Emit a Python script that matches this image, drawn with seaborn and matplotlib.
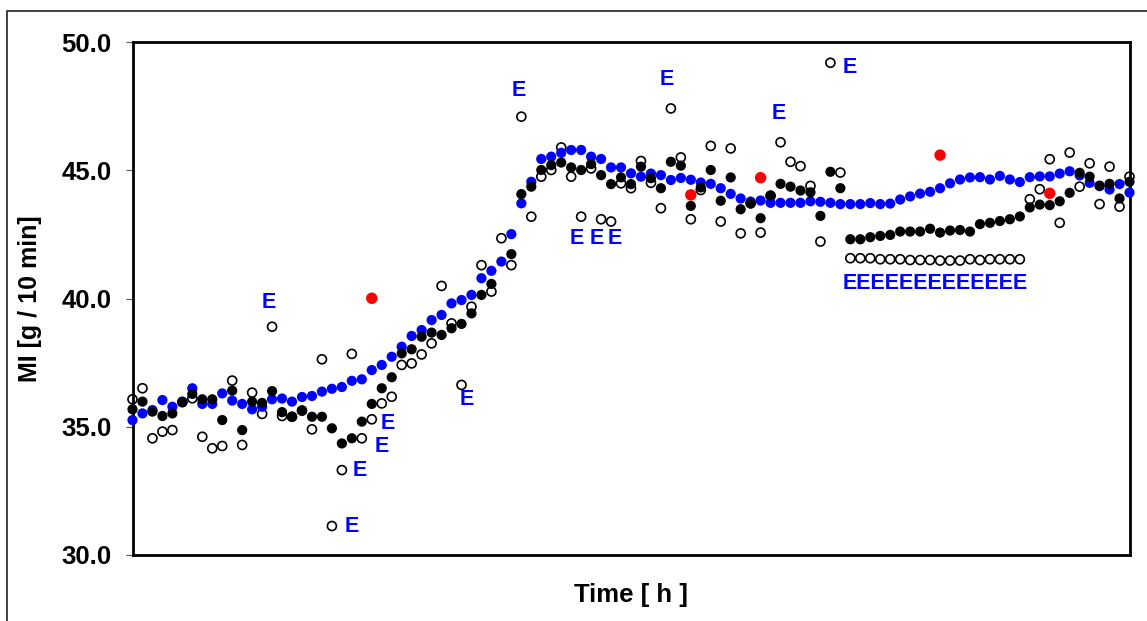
import matplotlib
matplotlib.use("Agg")
import matplotlib.pyplot as plt
import seaborn as sns
import pandas as pd
import numpy as np
from matplotlib.patches import Rectangle
from matplotlib.ticker import FormatStrFormatter

# ---------------- data ----------------
sample = list(range(101))

# smooth model / soft-sensor series (blue)
model_mi = [35.26, 35.52, 35.65, 36.04, 35.78, 35.98, 36.50, 35.89, 35.89, 36.30,
            36.02, 35.89, 35.68, 35.78, 36.07, 36.10, 35.98, 36.16, 36.20, 36.37,
            36.48, 36.55, 36.79, 36.85, 37.21, 37.41, 37.73, 38.12, 38.54, 38.77,
            39.16, 39.36, 39.81, 39.94, 40.14, 40.79, 41.08, 41.44, 42.51, 43.71,
            44.55, 45.44, 45.53, 45.68, 45.79, 45.79, 45.53, 45.44, 45.11, 45.11,
            44.88, 44.75, 44.87, 44.81, 44.62, 44.70, 44.63, 44.52, 44.47, 44.30,
            44.08, 43.90, 43.78, 43.82, 43.73, 43.73, 43.73, 43.73, 43.79, 43.77,
            43.73, 43.68, 43.68, 43.68, 43.72, 43.68, 43.70, 43.86, 43.98, 44.09,
            44.16, 44.30, 44.49, 44.64, 44.72, 44.73, 44.64, 44.78, 44.64, 44.54,
            44.73, 44.76, 44.76, 44.87, 44.96, 44.80, 44.51, 44.38, 44.25, 44.46,
            44.13]

# filled black series
online_mi = [35.68, 35.98, 35.59, 35.42, 35.52, 35.96, 36.28, 36.07, 36.07, 35.26,
             36.41, 34.87, 35.98, 35.93, 36.39, 35.57, 35.39, 35.63, 35.39, 35.39,
             34.94, 34.35, 34.55, 35.20, 35.89, 36.50, 36.93, 37.86, 38.02, 38.51,
             38.67, 38.58, 38.84, 39.01, 39.42, 40.14, 40.57, np.nan, 41.73, 44.07,
             44.36, 45.01, 45.20, 45.30, 45.11, 45.01, 45.24, 44.81, 44.46, 44.72,
             44.46, 45.14, 44.69, 44.30, 45.33, 45.18, 43.61, 44.33, 45.01, 43.81,
             44.72, 43.48, 43.71, 43.13, 44.02, 44.47, 44.36, 44.21, 44.14, 43.22,
             44.94, 44.30, 42.31, 42.31, 42.39, 42.44, 42.48, 42.61, 42.61, 42.61,
             42.72, 42.57, 42.65, 42.67, 42.61, 42.90, 42.95, 43.02, 43.09, 43.20,
             43.55, 43.66, 43.64, 43.79, 44.12, 44.90, 44.75, 44.40, 44.47, 43.90,
             44.55]

# open circle series
lab_mi = [36.07, 36.50, 34.55, 34.81, 34.87, 35.96, 36.11, 34.61, 34.16, 34.25,
          36.80, 34.29, 36.33, 35.50, 38.90, 35.42, 35.39, 35.63, 34.90, 37.63,
          31.13, 33.31, 37.84, 34.55, 35.29, 35.91, 36.17, 37.41, 37.47, 37.82,
          38.25, 40.49, 39.03, 36.63, 39.68, 41.30, 40.27, 42.35, 41.30, 47.09,
          43.19, 44.75, 45.01, 45.89, 44.75, 43.19, 45.07, 43.09, 43.00, 44.49,
          44.30, 45.36, 44.51, 43.52, 47.41, 45.50, 43.09, 44.23, 45.95, 43.00,
          45.85, 42.54, 43.71, 42.57, 44.00, 46.09, 45.33, 45.16, 44.39, 42.22,
          49.19, 44.91, 41.57, 41.57, 41.57, 41.53, 41.53, 41.53, 41.50, 41.50,
          41.50, 41.48, 41.48, 41.48, 41.53, 41.50, 41.53, 41.53, 41.53, 41.53,
          43.87, 44.26, 45.43, 42.95, 45.69, 44.36, 45.27, 43.68, 45.14, 43.58,
          44.75]

# red reference points
red_sample = [24, 56, 63, 81, 92]
red_mi = [40.01, 44.04, 44.71, 45.59, 44.10]

# "E" flags on open circles: sample index -> label placement (dx, dy in pixels, +dy = down)
e_flags = {14: (-3, -24), 39: (-3, -26), 54: (-4, -29), 65: (-2, -29),
           20: (20, 0), 21: (18, 0), 23: (20, 8), 24: (16, 4), 70: (19, 5),
           33: (5, 15), 45: (-4, 22), 47: (-4, 19), 48: (4, 17)}
e_row = list(range(72, 90))
e_row_text = "E" * 13

y_ticks = [30, 35, 40, 45, 50]
x_label = "Time [ h ]"
y_label = "MI [g / 10 min]"

# ---------------- figure ----------------
sns.set_style("white")
plt.rcParams["font.family"] = ["Liberation Sans", "DejaVu Sans"]
plt.rcParams["text.color"] = "black"
plt.rcParams["axes.labelcolor"] = "black"
plt.rcParams["ytick.color"] = "black"

W, H = 1147, 621
fig, ax = plt.subplots(figsize=(W / 100, H / 100), dpi=100)
fig.subplots_adjust(left=132.5 / W, right=1129.5 / W, bottom=1 - 555 / H, top=1 - 42 / H)

df = pd.DataFrame({"t": sample, "model": model_mi, "online": online_mi, "lab": lab_mi})
red_df = pd.DataFrame({"t": red_sample, "mi": red_mi})

sns.scatterplot(data=df, x="t", y="lab", ax=ax, s=42, marker="o",
                facecolor="none", edgecolor="black", linewidth=1.2,
                zorder=2, clip_on=False)
sns.scatterplot(data=df, x="t", y="model", ax=ax, s=54, color="#0000FF",
                edgecolor="none", linewidth=0, zorder=3, clip_on=False)
sns.scatterplot(data=df, x="t", y="online", ax=ax, s=54, color="black",
                edgecolor="none", linewidth=0, zorder=4, clip_on=False)
sns.scatterplot(data=red_df, x="t", y="mi", ax=ax, s=68, color="#FF0000",
                edgecolor="none", linewidth=0, zorder=5, clip_on=False)

lab_arr = np.array(lab_mi)
efont = dict(color="#0000FF", fontsize=15.5, fontweight="bold", zorder=6,
             textcoords="offset points", annotation_clip=False,
             ha="center", va="center")
px = 0.72  # points per pixel at 100 dpi
for i, (dx, dy) in e_flags.items():
    ax.annotate("E", (sample[i], lab_arr[i]), xytext=(dx * px, -dy * px), **efont)
row_x = np.mean([sample[i] for i in e_row])
row_y = np.mean(lab_arr[e_row])
ax.annotate(e_row_text, (row_x, row_y), xytext=(0, -24 * px), **efont)

ax.set_xlim(sample[0], sample[-1])
ax.set_ylim(y_ticks[0], y_ticks[-1])
ax.set_yticks(y_ticks)
ax.yaxis.set_major_formatter(FormatStrFormatter("%.1f"))
ax.set_xticks([])
ax.tick_params(axis="y", direction="out", length=5, width=0.8, color="#555555",
               labelcolor="black", pad=10, labelsize=18.5, left=True)
for lab in ax.get_yticklabels():
    lab.set_fontweight("bold")

for sp in ax.spines.values():
    sp.set_visible(True)
    sp.set_color("black")
    sp.set_linewidth(2.0)

ax.set_xlabel(x_label, fontsize=18.5, fontweight="bold", labelpad=20, color="black")
ax.set_ylabel(y_label, fontsize=18, fontweight="bold", labelpad=14, color="black")
ax.grid(False)

# outer chart frame (cropped at right and bottom)
fig.add_artist(Rectangle((7.5 / W, -0.2), 1.2, 1.2 - 10.5 / H, transform=fig.transFigure,
                         fill=False, edgecolor="#333333", linewidth=1.3))

fig.savefig("out.png", dpi=100)
